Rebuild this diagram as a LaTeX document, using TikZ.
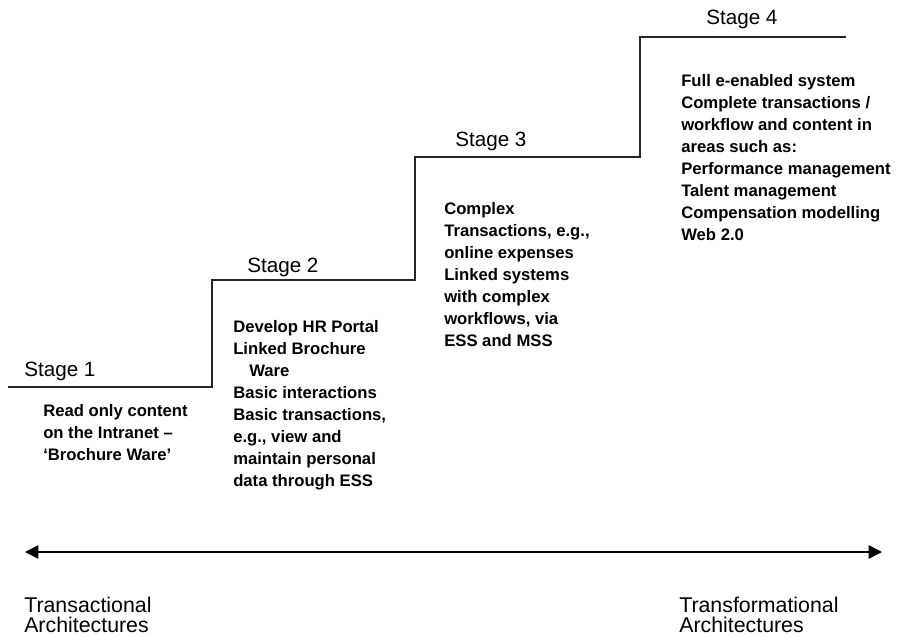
\documentclass[tikz,border=0pt]{standalone}
\usepackage{fontspec}
\setmainfont{Liberation Sans}
\usetikzlibrary{arrows.meta}
\begin{document}
\begin{tikzpicture}[x=0.75pt,y=-0.75pt,
  stair/.style={line width=1.1pt, draw=black!85, line join=miter},
  stagelbl/.style={inner sep=0pt, anchor=base west, font=\fontsize{15.5}{16.5}\selectfont},
  content/.style={inner sep=0pt, anchor=north west, align=left, font=\fontsize{12.5}{16.5}\selectfont\bfseries},
  endlbl/.style={inner sep=0pt, anchor=north west, align=left, font=\fontsize{16}{15}\selectfont},
  span/.style={line width=1.1pt, {Triangle[length=10pt,width=10pt]}-{Triangle[length=10pt,width=10pt]}}]
\path[use as bounding box] (0,0) rectangle (908,636);

% staircase of the four stages
\coordinate (p0) at (8,387);
\coordinate (p1) at (212,387);
\coordinate (p2) at (212,280);
\coordinate (p3) at (415,280);
\coordinate (p4) at (415,157);
\coordinate (p5) at (640,157);
\coordinate (p6) at (640,37);
\coordinate (p7) at (846,37);
\draw[stair] (p0) -- (p1) -- (p2) -- (p3) -- (p4) -- (p5) -- (p6) -- (p7);

% stage labels
\node[stagelbl] (s1) at (24,376) {Stage 1};
\node[stagelbl] (s2) at (247,272) {Stage 2};
\node[stagelbl] (s3) at (455,146) {Stage 3};
\node[stagelbl] (s4) at (706,24) {Stage 4};

% what each stage offers
\node[content] (c1) at (43,404) {Read only content\\on the Intranet –\\‘Brochure Ware’};
\node[content] (c2) at (233,320) {Develop HR Portal\\Linked Brochure\\\hspace*{12pt}Ware\\Basic interactions\\Basic transactions,\\e.g., view and\\maintain personal\\data through ESS};
\node[content] (c3) at (444,202) {Complex\\Transactions, e.g.,\\online expenses\\Linked systems\\with complex\\workflows, via\\ESS and MSS};
\node[content] (c4) at (681,74) {Full e-enabled system\\Complete transactions /\\workflow and content in\\areas such as:\\Performance management\\Talent management\\Compensation modelling\\Web 2.0};

% transactional-to-transformational scale
\coordinate (aL) at (25,552);
\coordinate (aR) at (882,552);
\draw[span] (aL) -- (aR);

\node[endlbl] (tl) at (24,597) {Transactional\\Architectures};
\node[endlbl] (tr) at (679,597) {Transformational\\Architectures};
\end{tikzpicture}
\end{document}
